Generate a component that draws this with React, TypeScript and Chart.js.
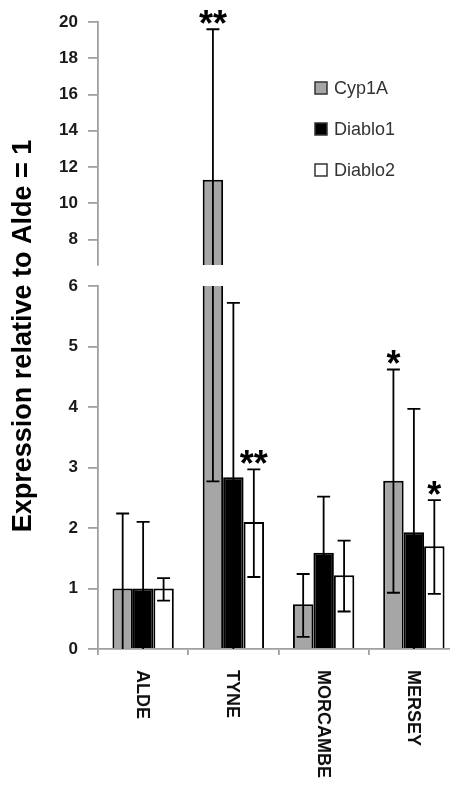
import { useEffect, useRef } from 'react';
import { Chart, registerables } from 'chart.js';

Chart.register(...registerables);

// ---- data ----
const categories = ['ALDE', 'TYNE', 'MORCAMBE', 'MERSEY'];
const seriesNames = ['Cyp1A', 'Diablo1', 'Diablo2'];

const cypValues = [1.0, 11.3, 0.74, 2.78];
const cypHigh = [2.24, 19.6, 1.24, 4.62];
const cypLow = [-0.24, 2.77, 0.2, 0.93];
const cypStars = ['', '**', '', '*'];

const d1Values = [1.0, 2.84, 1.59, 1.93];
const d1High = [2.1, 5.72, 2.52, 3.97];
const d1Low = [-0.1, -0.04, 0.66, -0.11];
const d1Stars = ['', '', '', ''];

const d2Values = [1.0, 2.1, 1.22, 1.7];
const d2High = [1.17, 2.97, 1.79, 2.46];
const d2Low = [0.8, 1.19, 0.62, 0.91];
const d2Stars = ['', '**', '', '*'];

const topTicks = [8, 10, 12, 14, 16, 18, 20];
const bottomTicks = [0, 1, 2, 3, 4, 5, 6];
const yTitle = 'Expression relative to Alde = 1';

// ---- styles ----
const FONT = '"Liberation Sans", Arial, sans-serif';
const AXIS = '#a0a0a0';
const fills = ['#a6a6a6', '#000000', '#ffffff'];
const W = 459;
const H = 785;

function makeDatasets() {
  const vals = [cypValues, d1Values, d2Values];
  const highs = [cypHigh, d1High, d2High];
  const lows = [cypLow, d1Low, d2Low];
  const stars = [cypStars, d1Stars, d2Stars];
  return seriesNames.map((name, i) => ({
    label: name,
    data: vals[i],
    errHigh: highs[i],
    errLow: lows[i],
    stars: stars[i],
    backgroundColor: fills[i],
    borderColor: '#000',
    borderWidth: 2,
    borderSkipped: 'start',
    clip: 0,
    categoryPercentage: 0.68,
    barPercentage: 1.0,
  }));
}

const errorBarPlugin = {
  id: 'errorBars',
  afterDatasetsDraw(chart: any) {
    const { ctx, chartArea } = chart;
    const y = chart.scales.y;
    ctx.save();
    ctx.beginPath();
    ctx.rect(chartArea.left, chartArea.top, chartArea.right - chartArea.left, chartArea.bottom - chartArea.top);
    ctx.clip();
    ctx.strokeStyle = '#000';
    ctx.lineWidth = 1.8;
    chart.data.datasets.forEach((ds: any, di: number) => {
      const meta = chart.getDatasetMeta(di);
      meta.data.forEach((bar: any, i: number) => {
        const x = bar.x;
        const yl = y.getPixelForValue(ds.errLow[i]);
        const yh = y.getPixelForValue(ds.errHigh[i]);
        ctx.beginPath();
        ctx.moveTo(x, yl);
        ctx.lineTo(x, yh);
        ctx.moveTo(x - 6.5, yh);
        ctx.lineTo(x + 6.5, yh);
        ctx.moveTo(x - 6.5, yl);
        ctx.lineTo(x + 6.5, yl);
        ctx.stroke();
      });
    });
    ctx.restore();

    // significance stars
    ctx.save();
    ctx.fillStyle = '#000';
    ctx.font = `bold 36px ${FONT}`;
    ctx.textAlign = 'center';
    ctx.textBaseline = 'alphabetic';
    chart.data.datasets.forEach((ds: any, di: number) => {
      const meta = chart.getDatasetMeta(di);
      meta.data.forEach((bar: any, i: number) => {
        const s = ds.stars[i];
        if (!s) return;
        const v = ds.errHigh[i];
        if (v < y.min || v > y.max) return;
        const m = ctx.measureText(s);
        const off = (m.actualBoundingBoxAscent - m.actualBoundingBoxDescent) / 2;
        const cy = y.getPixelForValue(v) - 12.5;
        ctx.fillText(s, bar.x, cy + off);
      });
    });
    ctx.restore();
  },
};

const legendPlugin = {
  id: 'customLegend',
  afterDraw(chart: any) {
    const { ctx } = chart;
    ctx.save();
    ctx.font = `18px ${FONT}`;
    ctx.textBaseline = 'middle';
    ctx.textAlign = 'left';
    seriesNames.forEach((name, i) => {
      const cy = 88 + i * 41;
      ctx.fillStyle = fills[i];
      ctx.fillRect(315, cy - 6, 12, 12);
      ctx.strokeStyle = '#333';
      ctx.lineWidth = 1.5;
      ctx.strokeRect(315, cy - 6, 12, 12);
      ctx.fillStyle = '#333';
      ctx.fillText(name, 334, cy + 1);
    });
    ctx.restore();
  },
};

const labelsPlugin = {
  id: 'customLabels',
  afterDraw(chart: any) {
    const { ctx, chartArea } = chart;
    const x = chart.scales.x;
    ctx.save();
    ctx.fillStyle = '#111';
    ctx.font = `bold 18px ${FONT}`;
    ctx.textAlign = 'left';
    ctx.textBaseline = 'middle';
    categories.forEach((c, i) => {
      const px = x.getPixelForValue(i) - 1;
      ctx.save();
      ctx.translate(px, chartArea.bottom + 21);
      ctx.rotate(Math.PI / 2);
      ctx.fillText(c, 0, 0);
      ctx.restore();
    });
    // y title
    ctx.font = `bold 27px ${FONT}`;
    ctx.fillStyle = '#000';
    ctx.textAlign = 'center';
    ctx.translate(24, 336);
    ctx.rotate(-Math.PI / 2);
    ctx.fillText(yTitle, 0, 0);
    ctx.restore();
  },
};

function yScale(min: number, max: number, ticks: number[]) {
  return {
    type: 'linear',
    min,
    max,
    afterBuildTicks: (scale: any) => {
      scale.ticks = ticks.map((v) => ({ value: v }));
    },
    afterFit: (scale: any) => {
      scale.width = 98;
    },
    grid: {
      drawOnChartArea: false,
      drawTicks: true,
      tickLength: 10,
      color: AXIS,
      lineWidth: 1.8,
    },
    border: { display: true, color: AXIS, width: 1.8 },
    ticks: {
      font: { family: FONT, size: 17, weight: 'bold' },
      color: '#1a1a1a',
      padding: 10,
    },
  };
}

function xScale(display: boolean) {
  return {
    type: 'category',
    display,
    offset: true,
    afterFit: (scale: any) => {
      scale.height = display ? 136 : 0;
    },
    grid: {
      offset: true,
      drawOnChartArea: false,
      drawTicks: true,
      tickLength: 6,
      color: AXIS,
      lineWidth: 1.8,
    },
    border: { display: true, color: AXIS, width: 1.8 },
    ticks: { display: false },
  };
}

export default function App() {
  const topRef = useRef<HTMLCanvasElement>(null);
  const botRef = useRef<HTMLCanvasElement>(null);

  useEffect(() => {
    const common: any = {
      responsive: false,
      animation: false,
      devicePixelRatio: 1,
      plugins: { legend: { display: false }, tooltip: { enabled: false } },
    };
    const bottom = new Chart(botRef.current as HTMLCanvasElement, {
      type: 'bar',
      data: { labels: categories, datasets: makeDatasets() as any },
      options: {
        ...common,
        layout: { padding: { top: 286, bottom: 0, left: 0, right: 0 } },
        scales: { x: xScale(true) as any, y: yScale(0, 6, bottomTicks) as any },
      },
      plugins: [errorBarPlugin, labelsPlugin],
    });
    const top = new Chart(topRef.current as HTMLCanvasElement, {
      type: 'bar',
      data: { labels: categories, datasets: makeDatasets() as any },
      options: {
        ...common,
        layout: { padding: { top: 22, bottom: 520, left: 0, right: 0 } },
        scales: { x: xScale(false) as any, y: yScale(6.6, 20, topTicks) as any },
      },
      plugins: [errorBarPlugin, legendPlugin],
    });
    return () => {
      bottom.destroy();
      top.destroy();
    };
  }, []);

  return (
    <div
      style={{
        position: 'fixed',
        left: 0,
        top: 0,
        width: 450,
        height: 785,
        overflow: 'hidden',
        background: '#fff',
      }}
    >
      <canvas ref={botRef} width={W} height={H} style={{ position: 'absolute', left: 0, top: 0 }} />
      <canvas ref={topRef} width={W} height={H} style={{ position: 'absolute', left: 0, top: 0 }} />
    </div>
  );
}
